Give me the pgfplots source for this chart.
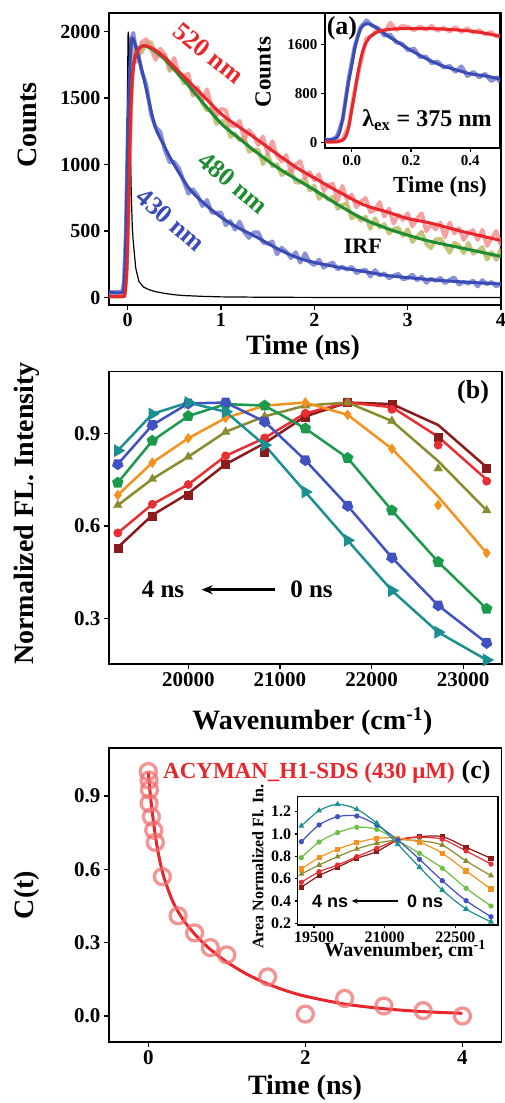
\documentclass[border=0pt]{standalone}
\usepackage{fontspec}
\setmainfont{Liberation Serif}
\newfontfamily\sansfont{Liberation Sans}
\usepackage{pgfplots}
\pgfplotsset{compat=1.18}
\usetikzlibrary{arrows.meta}
\definecolor{bfit}{HTML}{3A4BB5}
\definecolor{bdat}{HTML}{6E78CC}
\definecolor{rfit}{HTML}{E8262B}
\definecolor{rdat}{HTML}{F28A8A}
\definecolor{gfit}{HTML}{1E8C30}
\definecolor{gdat}{HTML}{B5B55C}
\definecolor{cdr}{HTML}{8B1A1A}
\definecolor{cr}{HTML}{E62E33}
\definecolor{col}{HTML}{8A8A2E}
\definecolor{cor}{HTML}{F5921E}
\definecolor{cgr}{HTML}{1B9A4B}
\definecolor{cbl}{HTML}{4052C0}
\definecolor{ctl}{HTML}{1A9090}
\definecolor{clg}{HTML}{6CBE45}
\definecolor{ccirc}{HTML}{F07070}
\newcommand\ft[1]{\fontsize{#1}{#1}\selectfont\bfseries}
\pgfplotsset{myaxis/.style={scale only axis, axis line style={line width=1.6pt}, every tick/.style={line width=1.4pt, black},
 tick align=outside, major tick length=5pt, tick pos=left, scaled ticks=false,
 /pgf/number format/assume math mode=true, /pgf/number format/1000 sep={},
 ticklabel style={font=\ft{20}}, clip=true}}
\begin{document}
\begin{tikzpicture}
\useasboundingbox (0,0) rectangle (505pt,1103pt);
% ---------------- panel (a) ----------------
\begin{axis}[myaxis, at={(109pt,798pt)}, anchor=south west, width=392pt, height=292pt,
 xmin=-0.2, xmax=4, ymin=-55, ymax=2140, xtick={0,1,2,3,4}, ytick={0,500,1000,1500,2000},
 xlabel={Time (ns)}, ylabel={Counts},
 xlabel style={font=\ft{28}, at={(axis description cs:0.495,-0.147)}, anchor=center},
 ylabel style={font=\ft{28}, at={(axis description cs:-0.209,0.616)}, anchor=center}]
\addplot[gdat, line width=4pt, opacity=0.8, line join=round] coordinates {
(-0.2,10)(-0.05,10)(-0.03,40)(-0.01,250)(0,520)(0.02,1050)(0.04,1550)(0.06,1780)(0.08,1860)
(0.10,1831)(0.15,1844)(0.20,1917)(0.25,1920)(0.30,1832)(0.35,1815)(0.40,1826)(0.45,1705)(0.50,1741)(0.55,1689)
(0.60,1613)(0.65,1639)(0.70,1519)(0.75,1564)(0.80,1461)(0.85,1407)(0.90,1422)(0.95,1307)(1.00,1326)(1.05,1330)
(1.10,1208)(1.15,1233)(1.20,1181)(1.25,1203)(1.30,1097)(1.35,1113)(1.40,1110)(1.45,1004)(1.50,1077)(1.55,988)
(1.60,1003)(1.65,922)(1.70,945)(1.75,956)(1.80,867)(1.85,865)(1.90,898)(1.95,805)(2.00,842)(2.05,743)
(2.10,780)(2.15,735)(2.20,758)(2.25,668)(2.30,696)(2.35,710)(2.40,595)(2.45,620)(2.50,578)(2.55,609)
(2.60,518)(2.65,596)(2.70,528)(2.75,553)(2.80,482)(2.85,515)(2.90,526)(2.95,464)(3.00,515)(3.05,419)
(3.10,459)(3.15,494)(3.20,404)(3.25,372)(3.30,438)(3.35,443)(3.40,391)(3.45,339)(3.50,413)(3.55,392)
(3.60,334)(3.65,412)(3.70,331)(3.75,351)(3.80,379)(3.85,286)(3.90,342)(3.95,285)(4.00,369)};
\addplot[rdat, line width=4pt, opacity=0.8, line join=round] coordinates {
(-0.2,10)(-0.05,10)(-0.03,30)(-0.01,200)(0,450)(0.02,1000)(0.04,1500)(0.06,1800)(0.08,1900)
(0.10,1774)(0.15,1920)(0.20,1943)(0.25,1868)(0.30,1788)(0.35,1871)(0.40,1823)(0.45,1722)(0.50,1801)(0.55,1670)
(0.60,1669)(0.65,1682)(0.70,1533)(0.75,1582)(0.80,1481)(0.85,1566)(0.90,1435)(0.95,1364)(1.00,1419)(1.05,1410)
(1.10,1296)(1.15,1289)(1.20,1328)(1.25,1189)(1.30,1260)(1.35,1219)(1.40,1147)(1.45,1211)(1.50,1082)(1.55,1177)
(1.60,1068)(1.65,1025)(1.70,1072)(1.75,945)(1.80,1000)(1.85,1026)(1.90,898)(1.95,944)(2.00,882)(2.05,928)
(2.10,806)(2.15,846)(2.20,856)(2.25,728)(2.30,840)(2.35,738)(2.40,775)(2.45,680)(2.50,722)(2.55,749)
(2.60,644)(2.65,660)(2.70,718)(2.75,610)(2.80,670)(2.85,557)(2.90,624)(2.95,584)(3.00,635)(3.05,536)
(3.10,594)(3.15,634)(3.20,500)(3.25,552)(3.30,513)(3.35,564)(3.40,453)(3.45,564)(3.50,483)(3.55,522)
(3.60,435)(3.65,486)(3.70,508)(3.75,434)(3.80,510)(3.85,389)(3.90,448)(3.95,502)(4.00,389)};
\addplot[bdat, line width=4pt, opacity=0.8, line join=round] coordinates {
(-0.2,40)(-0.1,45)(-0.06,40)(-0.04,110)(-0.02,480)(0,1180)(0.02,1720)(0.04,1950)(0.06,1990)(0.08,1900)
(0.10,1878)(0.15,1704)(0.20,1600)(0.25,1379)(0.30,1281)(0.35,1248)(0.40,1106)(0.45,1018)(0.50,1020)(0.55,972)
(0.60,877)(0.65,782)(0.70,814)(0.75,767)(0.80,688)(0.85,734)(0.90,640)(0.95,637)(1.00,641)(1.05,545)
(1.10,576)(1.15,512)(1.20,572)(1.25,491)(1.30,449)(1.35,491)(1.40,490)(1.45,414)(1.50,406)(1.55,422)
(1.60,326)(1.65,375)(1.70,346)(1.75,298)(1.80,342)(1.85,264)(1.90,334)(1.95,267)(2.00,245)(2.05,286)
(2.10,225)(2.15,251)(2.20,264)(2.25,212)(2.30,234)(2.35,210)(2.40,232)(2.45,184)(2.50,202)(2.55,210)
(2.60,159)(2.65,208)(2.70,167)(2.75,183)(2.80,145)(2.85,166)(2.90,179)(2.95,138)(3.00,148)(3.05,174)
(3.10,131)(3.15,158)(3.20,112)(3.25,143)(3.30,127)(3.35,150)(3.40,109)(3.45,135)(3.50,152)(3.55,98)
(3.60,120)(3.65,106)(3.70,129)(3.75,84)(3.80,132)(3.85,100)(3.90,118)(3.95,84)(4.00,108)};
\addplot[black, line width=1.2pt] coordinates {
(-0.2,5)(-0.05,5)(-0.03,30)(-0.02,150)(-0.01,700)(0.0,1700)(0.005,2000)(0.012,1950)(0.02,1500)(0.03,1050)
(0.04,750)(0.05,525)(0.06,420)(0.086,225)(0.12,122)(0.17,80)(0.229,60)(0.3,45)(0.4,32)(0.5,22)(0.6,16)
(0.8,10)(1.0,6)(1.5,3)(2,2)(3,1)(4,1)};
\addplot[gfit, line width=3pt, smooth] coordinates {
(-0.2,10)(-0.05,10)(-0.03,40)(-0.01,250)(0,500)(0.015,950)(0.03,1380)(0.045,1620)(0.06,1740)(0.086,1830)
(0.13,1880)(0.175,1893)(0.23,1880)(0.3,1850)(0.4,1790)(0.479,1730)(0.657,1590)(0.836,1440)(1.015,1300)
(1.19,1200)(1.37,1098)(1.6,980)(1.82,885)(2.0,810)(2.25,700)(2.53,590)(2.8,515)(3.0,470)(3.25,422)(3.6,370)(4.0,310)};
\addplot[bfit, line width=3pt, smooth] coordinates {
(-0.2,40)(-0.06,40)(-0.04,100)(-0.02,450)(0.0,1150)(0.02,1700)(0.04,1920)(0.05,1950)(0.07,1930)(0.1,1850)
(0.157,1698)(0.229,1473)(0.3,1273)(0.4,1130)(0.479,1023)(0.657,823)(0.836,698)(1.015,598)(1.19,523)(1.37,460)
(1.6,370)(1.82,300)(2.0,265)(2.25,230)(2.53,197)(2.8,165)(3.25,135)(3.6,118)(4.0,103)};
\addplot[rfit, line width=3pt, smooth] coordinates {
(-0.2,10)(-0.05,10)(-0.03,30)(-0.01,200)(0.0,450)(0.015,900)(0.03,1350)(0.045,1600)(0.06,1720)(0.086,1820)
(0.13,1880)(0.175,1895)(0.23,1885)(0.3,1860)(0.4,1805)(0.479,1748)(0.657,1623)(0.836,1498)(1.015,1373)
(1.19,1285)(1.37,1198)(1.6,1080)(1.82,973)(2.0,900)(2.25,800)(2.53,698)(2.8,640)(3.0,595)(3.25,560)(3.6,495)(4.0,430)};
\node[rfit, rotate=-39, font=\ft{26}, inner sep=0pt] at (axis cs:0.868,1838) {520 nm};
\node[gfit, rotate=-40, font=\ft{26}, inner sep=0pt] at (axis cs:1.136,863) {480 nm};
\node[bfit, rotate=-41, font=\ft{26}, inner sep=0pt] at (axis cs:0.46,585) {430 nm};
\node[black, font=\ft{22}] at (axis cs:2.52,383) {IRF};
\end{axis}
% ---------------- inset (a) ----------------
\begin{axis}[myaxis, at={(325pt,955pt)}, anchor=south west, width=175pt, height=135pt,
 axis background/.style={fill=white},
 xmin=-0.09, xmax=0.5, ymin=-90, ymax=2110, xtick={0,0.2,0.4}, ytick={0,800,1600},
 major tick length=4pt, ticklabel style={font=\ft{15}},
 xticklabel style={/pgf/number format/.cd, fixed, precision=1, zerofill},
 xlabel={Time (ns)}, ylabel={Counts},
 xlabel style={font=\ft{23}, at={(axis description cs:0.657,-0.289)}, anchor=center},
 ylabel style={font=\ft{23}, at={(axis description cs:-0.354,0.563)}, anchor=center}]
\addplot[bdat, line width=4pt, opacity=0.8, line join=round] coordinates {
(-0.09,50)(-0.07,40)(-0.05,95)(-0.03,380)(-0.01,1050)(0.01,1560)(0.03,1880)(0.05,1990)(0.07,1900)(0.09,1860)
(0.11,1740)(0.13,1760)(0.15,1630)(0.17,1610)(0.19,1500)(0.21,1530)(0.23,1390)(0.25,1400)(0.27,1290)(0.29,1320)
(0.31,1220)(0.33,1250)(0.35,1150)(0.37,1240)(0.39,1080)(0.41,1150)(0.43,1060)(0.45,1120)(0.47,1000)(0.49,1060)(0.50,980)};
\addplot[rdat, line width=4pt, opacity=0.8, line join=round] coordinates {
(-0.09,15)(-0.07,10)(-0.05,20)(-0.03,50)(-0.01,280)(0.01,850)(0.03,1300)(0.05,1700)(0.07,1750)(0.09,1860)
(0.11,1790)(0.13,1950)(0.15,1830)(0.17,1900)(0.19,1880)(0.21,1830)(0.23,1890)(0.25,1840)(0.27,1900)(0.29,1820)
(0.31,1870)(0.33,1810)(0.35,1880)(0.37,1800)(0.39,1860)(0.41,1790)(0.43,1830)(0.45,1760)(0.47,1800)(0.49,1720)(0.50,1760)};
\addplot[bfit, line width=3pt, smooth] coordinates {
(-0.09,45)(-0.07,45)(-0.05,80)(-0.04,180)(-0.03,400)(-0.02,700)(-0.01,1000)(0.0,1250)(0.01,1520)(0.02,1720)
(0.03,1850)(0.04,1910)(0.05,1935)(0.06,1930)(0.08,1880)(0.10,1810)(0.12,1740)(0.14,1680)(0.17,1590)(0.20,1500)
(0.25,1370)(0.30,1260)(0.35,1185)(0.40,1120)(0.45,1085)(0.50,1035)};
\addplot[rfit, line width=3pt, smooth] coordinates {
(-0.09,10)(-0.05,10)(-0.03,40)(-0.02,100)(-0.01,250)(0.0,530)(0.01,800)(0.02,1100)(0.03,1350)(0.04,1530)
(0.05,1640)(0.06,1710)(0.08,1785)(0.10,1820)(0.13,1845)(0.17,1855)(0.20,1857)(0.25,1855)(0.30,1850)(0.35,1835)
(0.40,1815)(0.45,1780)(0.50,1730)};
\node[font=\ft{26}] at (rel axis cs:0.097,0.889) {(a)};
\node[font=\ft{24}] at (rel axis cs:0.583,0.207) {λ\textsubscript{ex} = 375 nm};
\end{axis}
% ---------------- panel (b) ----------------
\begin{axis}[myaxis, at={(109pt,439pt)}, anchor=south west, width=392.7pt, height=292.3pt,
 xmin=19135, xmax=23420, ymin=0.152, ymax=1.1, xtick={20000,21000,22000,23000}, ytick={0.3,0.6,0.9},
 ticklabel style={font=\ft{21}},
 yticklabel style={/pgf/number format/.cd, fixed, precision=1, zerofill},
 xlabel={Wavenumber (cm\textsuperscript{-1})}, ylabel={Normalized FL. Intensity},
 xlabel style={font=\ft{28}, at={(axis description cs:0.518,-0.197)}, anchor=center},
 ylabel style={font=\ft{28}, at={(axis description cs:-0.209,0.515)}, anchor=center}]
\addplot[cdr, line width=2.5pt, no marks] coordinates {(19231,0.53)(19608,0.635)(20000,0.705)(20408,0.80)(20833,0.868)(21277,0.955)(21739,1.0)(22222,0.995)(22727,0.927)(23256,0.79)};
\addplot[cdr, only marks, mark=square*, mark size=4pt] coordinates {(19231,0.526)(19608,0.632)(20000,0.70)(20408,0.80)(20833,0.838)(21277,0.954)(21739,1.0)(22222,0.994)(22727,0.889)(23256,0.786)};
\addplot[cr, line width=2.5pt, no marks] coordinates {(19231,0.577)(19608,0.67)(20000,0.734)(20408,0.827)(20833,0.885)(21277,0.965)(21739,1.0)(22222,0.985)(22727,0.889)(23256,0.75)};
\addplot[cr, only marks, mark=*, mark size=4.2pt] coordinates {(19231,0.577)(19608,0.67)(20000,0.734)(20408,0.827)(20833,0.885)(21277,0.965)(21739,1.0)(22222,0.978)(22727,0.862)(23256,0.745)};
\addplot[col, line width=2.5pt, no marks] coordinates {(19231,0.667)(19608,0.752)(20000,0.824)(20408,0.905)(20833,0.955)(21277,0.99)(21739,1.0)(22222,0.94)(22727,0.81)(23256,0.65)};
\addplot[col, only marks, mark=triangle*, mark size=5pt] coordinates {(19231,0.667)(19608,0.752)(20000,0.824)(20408,0.905)(20833,0.955)(21277,0.99)(21739,1.0)(22222,0.94)(22727,0.786)(23256,0.65)};
\addplot[cor, line width=2.5pt, no marks] coordinates {(19231,0.70)(19608,0.805)(20000,0.884)(20408,0.95)(20833,0.99)(21277,1.0)(21739,0.96)(22222,0.85)(22727,0.695)(23256,0.512)};
\addplot[cor, only marks, mark=diamond*, mark size=5pt] coordinates {(19231,0.70)(19608,0.805)(20000,0.884)(20408,0.95)(20833,0.99)(21277,1.0)(21739,0.96)(22222,0.85)(22727,0.667)(23256,0.512)};
\addplot[cgr, line width=2.5pt, mark=pentagon*, mark size=4.5pt] coordinates {(19231,0.74)(19608,0.876)(20000,0.956)(20408,0.995)(20833,0.99)(21277,0.916)(21739,0.82)(22222,0.65)(22727,0.483)(23256,0.331)};
\addplot[cbl, line width=2.5pt, mark=pentagon*, mark size=4.5pt, mark options={rotate=180}] coordinates {(19231,0.80)(19608,0.927)(20000,0.997)(20408,1.0)(20833,0.938)(21277,0.813)(21739,0.665)(22222,0.497)(22727,0.342)(23256,0.22)};
\addplot[ctl, line width=2.5pt, mark=triangle*, mark size=5pt, mark options={rotate=-90}] coordinates {(19231,0.844)(19608,0.963)(20000,1.0)(20408,0.97)(20833,0.862)(21277,0.71)(21739,0.553)(22222,0.39)(22727,0.255)(23256,0.165)};
\node[font=\ft{25}] at (axis cs:19724,0.393) {4 ns};
\node[font=\ft{25}] at (axis cs:21345,0.393) {0 ns};
\draw[-{Stealth[length=11pt,width=9pt]}, line width=2.5pt] (axis cs:20945,0.393) -- (axis cs:20146,0.393);
\node[font=\ft{26}] at (rel axis cs:0.927,0.93) {(b)};
\end{axis}
% ---------------- panel (c) ----------------
\begin{axis}[myaxis, at={(109pt,61.3pt)}, anchor=south west, width=392.7pt, height=293.4pt,
 xmin=-0.5, xmax=4.5, ymin=-0.105, ymax=1.095, xtick={0,2,4}, ytick={0,0.3,0.6,0.9},
 ticklabel style={font=\ft{21}},
 yticklabel style={/pgf/number format/.cd, fixed, precision=1, zerofill},
 xlabel={Time (ns)}, ylabel={C(t)},
 xlabel style={font=\ft{28}, at={(axis description cs:0.499,-0.158)}, anchor=center},
 ylabel style={font=\ft{28}, at={(axis description cs:-0.209,0.5)}, anchor=center}]
\addplot[ccirc, only marks, mark=o, mark size=8pt, mark options={line width=3.3pt}, opacity=0.75] coordinates {
(0,1.0)(0.01,0.965)(0.015,0.925)(0.01,0.87)(0.04,0.815)(0.07,0.76)(0.09,0.71)(0.18,0.57)(0.38,0.41)(0.59,0.34)
(0.79,0.28)(1.0,0.25)(1.52,0.16)(2.0,0.008)(2.5,0.072)(3.0,0.041)(3.5,0.022)(4.0,0.0)};
\addplot[rfit, line width=3pt, smooth] coordinates {
(0,1.0)(0.02,0.926)(0.05,0.835)(0.1,0.717)(0.15,0.631)(0.2,0.567)(0.3,0.477)(0.4,0.416)(0.5,0.370)(0.6,0.332)
(0.7,0.299)(0.8,0.27)(1.0,0.221)(1.25,0.172)(1.5,0.134)(1.75,0.104)(2.0,0.081)(2.5,0.049)(3.0,0.03)(3.5,0.018)(4.0,0.011)};
\node[rfit, font=\ft{23}, anchor=west, inner sep=0pt] at (axis description cs:0.1375,0.916) {ACYMAN\_H1-SDS (430 μM)};
\node[font=\ft{26}, inner sep=0pt] at (axis description cs:0.935,0.918) {(c)};
\end{axis}
% ---------------- inset (c) ----------------
\begin{axis}[myaxis, at={(297.7pt,178pt)}, anchor=south west, width=200.3pt, height=128.3pt,
 axis background/.style={fill=white}, axis line style={line width=1.2pt}, major tick length=3pt,
 xmin=19154, xmax=23404, ymin=0.185, ymax=1.334, xtick={19500,21000,22500}, ytick={0.2,0.4,0.6,0.8,1.0,1.2},
 ticklabel style={font=\ft{16}},
 yticklabel style={/pgf/number format/.cd, fixed, precision=1, zerofill},
 xlabel={Wavenumber, cm\textsuperscript{-1}}, ylabel={Area Normalized Fl. In.},
 xlabel style={font=\ft{20}, at={(axis description cs:0.536,-0.195)}, anchor=center},
 ylabel style={font=\ft{16}, at={(axis description cs:-0.198,0.454)}, anchor=center}]
\addplot[cdr, line width=1.2pt, smooth, mark=square*, mark size=2pt] coordinates {(19231,0.522)(19608,0.627)(20000,0.702)(20408,0.782)(20833,0.842)(21277,0.946)(21739,0.976)(22222,0.976)(22727,0.881)(23256,0.782)};
\addplot[cr, line width=1.2pt, smooth, mark=*, mark size=2pt] coordinates {(19231,0.567)(19608,0.662)(20000,0.722)(20408,0.797)(20833,0.872)(21277,0.946)(21739,0.97)(22222,0.953)(22727,0.848)(23256,0.731)};
\addplot[col, line width=1.2pt, smooth, mark=triangle*, mark size=2.3pt] coordinates {(19231,0.642)(19608,0.722)(20000,0.797)(20408,0.866)(20833,0.917)(21277,0.946)(21739,0.94)(22222,0.90)(22727,0.758)(23256,0.627)};
\addplot[cor, line width=1.2pt, smooth, mark=square*, mark size=2pt] coordinates {(19231,0.687)(19608,0.788)(20000,0.863)(20408,0.922)(20833,0.962)(21277,0.962)(21739,0.926)(22222,0.827)(22727,0.669)(23256,0.507)};
\addplot[clg, line width=1.2pt, smooth, mark=*, mark size=2pt] coordinates {(19231,0.788)(19608,0.928)(20000,1.012)(20408,1.06)(20833,1.042)(21277,0.94)(21739,0.827)(22222,0.693)(22727,0.514)(23256,0.355)};
\addplot[cbl, line width=1.2pt, smooth, mark=*, mark size=2pt] coordinates {(19231,0.931)(19608,1.081)(20000,1.155)(20408,1.161)(20833,1.08)(21277,0.946)(21739,0.773)(22222,0.582)(22727,0.403)(23256,0.259)};
\addplot[ctl, line width=1.2pt, smooth, mark=triangle*, mark size=2.3pt] coordinates {(19231,1.072)(19608,1.209)(20000,1.266)(20408,1.221)(20833,1.096)(21277,0.908)(21739,0.702)(22222,0.498)(22727,0.328)(23256,0.214)};
\node[font=\sansfont\fontsize{18}{18}\selectfont\bfseries] at (axis cs:19840,0.40) {4 ns};
\node[font=\sansfont\fontsize{18}{18}\selectfont\bfseries] at (axis cs:21857,0.40) {0 ns};
\draw[-{Stealth[length=6pt,width=5pt]}, line width=1.2pt] (axis cs:21283,0.40) -- (axis cs:20300,0.40);
\end{axis}
\end{tikzpicture}
\end{document}
